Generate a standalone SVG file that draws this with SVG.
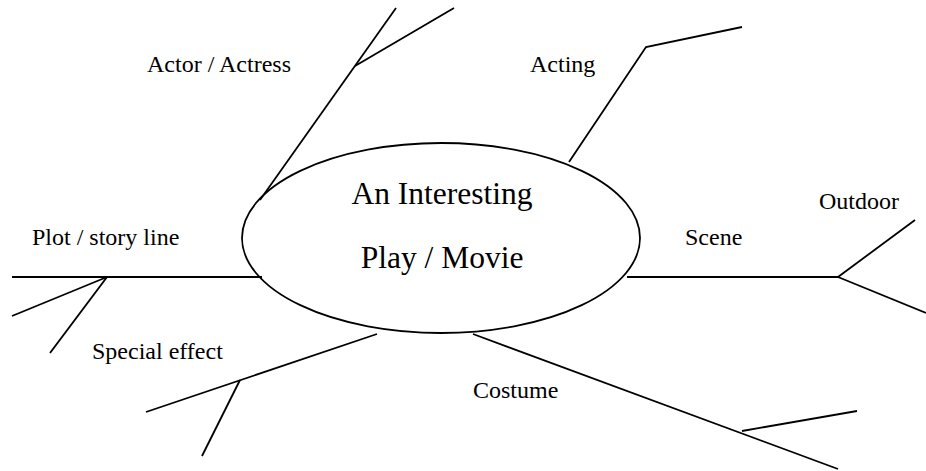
<svg xmlns="http://www.w3.org/2000/svg" width="926" height="471" viewBox="0 0 926 471">
<style>
.ln{fill:none;stroke:#000;stroke-width:1.8;stroke-linecap:butt;stroke-linejoin:miter}
.lb{font-size:24px;fill:#000}
.ct{font-size:31.5px;fill:#000;text-anchor:middle}
</style>
<rect width="926" height="471" fill="#fff"/>
<g id="connectors">
<polyline class="ln" points="260,200 396,8"/>
<polyline class="ln" points="355,66 454,8"/>
<polyline class="ln" points="569,162 646,47 742,27"/>
<polyline class="ln" points="12,277 262,277"/>
<polyline class="ln" points="107,277 12,316"/>
<polyline class="ln" points="107,277 50,353"/>
<polyline class="ln" points="627,277 838,277"/>
<polyline class="ln" points="838,277 915,220"/>
<polyline class="ln" points="838,277 926,313"/>
<polyline class="ln" points="377,334 146,412"/>
<polyline class="ln" points="240,380 202,456"/>
<polyline class="ln" points="473,334 838,469"/>
<polyline class="ln" points="742,431 857,411"/>
</g>
<g font-family="Liberation Serif, Times New Roman, Times, serif">
<g id="center">
<ellipse class="ln" cx="441" cy="238" rx="199" ry="95" fill="#fff"/>
<text class="ct" x="442" y="204">An Interesting</text>
<text class="ct" x="442" y="268">Play / Movie</text>
</g>
<g id="actor"><text class="lb" x="147" y="72">Actor / Actress</text></g>
<g id="acting"><text class="lb" x="530" y="72">Acting</text></g>
<g id="plot"><text class="lb" x="32" y="245">Plot / story line</text></g>
<g id="scene"><text class="lb" x="685" y="245">Scene</text></g>
<g id="outdoor"><text class="lb" x="819" y="209">Outdoor</text></g>
<g id="special"><text class="lb" x="92" y="359">Special effect</text></g>
<g id="costume"><text class="lb" x="473" y="398">Costume</text></g>
</g>
</svg>
